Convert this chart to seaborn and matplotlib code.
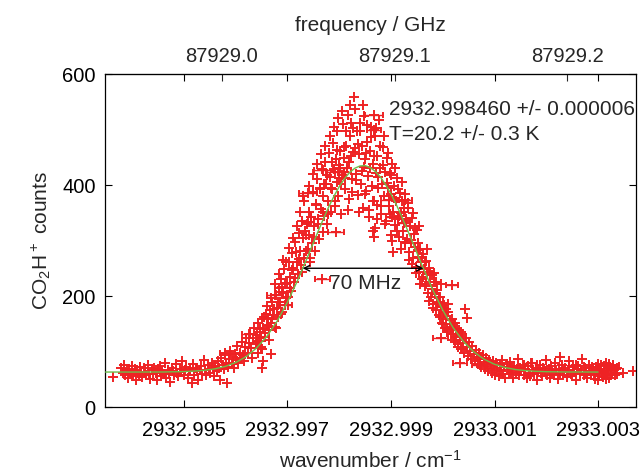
import numpy as np
import pandas as pd
import matplotlib
matplotlib.use("Agg")
import matplotlib.pyplot as plt
import seaborn as sns
from matplotlib.ticker import FormatStrFormatter

# Wavenumbers are stored as offsets above WN_BASE, in units of 1e-6 cm^-1
WN_BASE = 2932.990

wn_offset = [
    # left baseline
    3628, 3790, 3815, 3842, 3866, 3890, 3921, 3945, 3968, 3994,
    4020, 4047, 4071, 4096, 4122, 4150, 4173, 4198, 4224, 4251,
    4275, 4302, 4327, 4350, 4378, 4403, 4428, 4455, 4480, 4506,
    4530, 4557, 4583, 4608, 4633, 4660, 4685, 4710, 4736, 4762,
    4788, 4812, 4838, 4865, 4890, 4915, 4942, 4968, 4993, 5018,
    5044, 5070, 5095, 5120, 5146, 5171, 5198, 5224, 5250, 5275,
    5300, 5326, 5352, 5378, 5404, 5430, 5455, 5481, 5506, 5532,
    5558, 5583,
    # foot of the rising edge
    5608, 5631, 5655, 5678, 5700, 5722, 5745, 5768, 5790, 5812,
    5830, 5852, 5875, 5897, 5919, 5941, 5963, 5985, 6008, 6030,
    6052, 6074, 6096, 6118, 6140, 6162, 6184, 6206, 6228, 6250,
    6272, 6294, 6316, 6338, 6360, 6382, 6404, 6426, 6448, 6470,
    6492, 6514, 6536, 6558, 6580, 6602,
    # rising edge
    6622, 6643, 6664, 6686, 6707, 6728, 6749, 6770, 6792, 6813,
    6834, 6856, 6877, 6898, 6919, 6941, 6962, 6983, 7004, 7026,
    7047, 7068, 7089, 7111, 7132, 7153, 7174, 7196, 7217, 7238,
    7259, 7281, 7302, 7323, 7344, 7366, 7387, 7408,
    # left of the peak
    7425, 7443, 7461, 7479, 7497, 7515, 7533, 7551, 7569, 7587,
    7605, 7623, 7641, 7659, 7677, 7695, 7713, 7731, 7749, 7767,
    7785, 7803, 7821, 7839, 7857, 7875, 7893, 7911, 7929, 7947,
    7965, 7983, 8001, 8019, 8037, 8055, 8073, 8091, 8109, 8127,
    8145, 8163, 8181, 8199, 8217, 8235, 8253, 8271, 8289, 8307,
    # right of the peak
    8325, 8343, 8361, 8379, 8397, 8415, 8433, 8451, 8469, 8487,
    8505, 8523, 8541, 8559, 8577, 8595, 8613, 8631, 8649, 8667,
    8685, 8703, 8721, 8739, 8757, 8775, 8793, 8811, 8829, 8847,
    8865, 8883, 8901, 8919, 8937, 8955, 8973, 8991, 9009, 9027,
    9045, 9063, 9081, 9099, 9117, 9135, 9153, 9171, 9189,
    # falling edge
    9207, 9225, 9243, 9261, 9279, 9297, 9315, 9333, 9351, 9369,
    9387, 9405, 9423, 9441, 9459, 9477, 9495, 9513, 9531, 9549,
    9567, 9585, 9603, 9621, 9639, 9657, 9675, 9693, 9711, 9729,
    9747, 9765, 9783, 9801, 9819, 9837, 9855, 9873, 9891, 9909,
    9927, 9945, 9963, 9981, 9999, 10017, 10035, 10053, 10071, 10089,
    # foot of the falling edge
    10110, 10132, 10154, 10176, 10198, 10220, 10242, 10264, 10286, 10308,
    10330, 10352, 10374, 10396, 10418, 10440, 10462, 10484, 10506, 10528,
    10550, 10572, 10594, 10616, 10638, 10660, 10682, 10704, 10726, 10748,
    10770, 10792, 10814, 10836, 10858, 10880, 10902, 10924, 10946, 10968,
    10990, 11012, 11034, 11056, 11078, 11100, 11122, 11144, 11166, 11188,
    11210, 11232, 11254, 11276, 11298, 11320, 11342, 11364, 11386, 11408,
    11430, 11452, 11474, 11496,
    # right baseline
    11520, 11545, 11570, 11595, 11620, 11645, 11670, 11695, 11720, 11745,
    11770, 11795, 11820, 11845, 11870, 11895, 11920, 11945, 11970, 11995,
    12020, 12045, 12070, 12095, 12120, 12145, 12170, 12195, 12220, 12245,
    12270, 12295, 12320, 12345, 12370, 12395, 12420, 12445, 12470, 12495,
    12520, 12545, 12570, 12595, 12620, 12645, 12670, 12695, 12720, 12745,
    12770, 12795, 12820, 12845, 12870, 12895, 12920, 12945, 12970, 12995,
    13020, 13045, 13070, 13095, 13120, 13145, 13170, 13195, 13220, 13245,
    13270, 13295, 13320, 13345, 13370, 13480, 13669,
    # stray points
    6510, 6530, 6680, 8644, 8672, 8697, 9040, 10430, 10470, 12265,
    12958, 13008, 13058, 13108, 13158, 13208, 13258, 13308, 13358, 13000, 13150,
]

counts = [
    54, 71, 62, 75, 58, 66, 52, 69, 60, 73,
    55, 64, 49, 67, 58, 72, 61, 54, 70, 63,
    57, 76, 60, 51, 66, 59, 71, 62, 48, 68,
    74, 56, 65, 60, 79, 53, 67, 62, 45, 70,
    64, 58, 77, 61, 55, 69, 63, 82, 57, 66,
    72, 52, 64, 69, 44, 78, 58, 71, 64, 49,
    67, 73, 60, 84, 66, 57, 75, 68, 62, 80,
    70, 56,
    74, 65, 82, 71, 49, 88, 76, 68, 93, 79,
    43, 72, 86, 101, 77, 90, 70, 96, 84, 110,
    79, 98, 88, 118, 94, 83, 108, 124, 97, 115,
    131, 106, 88, 124, 142, 113, 129, 151, 119, 136,
    108, 158, 142, 126, 167, 148,
    160, 138, 175, 152, 190, 166, 145, 201, 178, 162,
    214, 189, 230, 172, 205, 248, 196, 224, 183, 262,
    235, 209, 277, 250, 226, 298, 262, 240, 313, 281,
    255, 336, 381, 268, 318, 310, 285, 352,
    310, 268, 342, 295, 388, 326, 281, 364, 410, 338,
    302, 395, 357, 428, 316, 380, 345, 441, 402, 330,
    372, 458, 415, 351, 393, 476, 428, 362, 447, 405,
    497, 381, 436, 462, 347, 418, 510, 449, 392, 470,
    431, 526, 375, 488, 545, 452, 410, 503, 558, 466,
    420, 497, 382, 456, 511, 401, 470, 358, 432, 524,
    447, 389, 478, 416, 355, 462, 505, 398, 437, 372,
    488, 421, 364, 452, 395, 518, 430, 347, 402, 469,
    381, 423, 336, 448, 395, 362, 421, 310, 384, 437,
    352, 398, 328, 371, 412, 338, 306, 386, 350,
    372, 318, 351, 297, 384, 336, 302, 358, 279, 327,
    295, 341, 268, 312, 288, 252, 319, 271, 296, 243,
    284, 262, 231, 275, 249, 218, 263, 239, 205, 251,
    226, 198, 237, 212, 186, 225, 203, 174, 211, 190,
    166, 198, 181, 152, 187, 170, 143, 176, 158, 135,
    172, 149, 131, 158, 140, 121, 151, 127, 113, 139,
    120, 104, 132, 115, 98, 124, 108, 92, 117, 101,
    86, 110, 95, 82, 103, 90, 77, 98, 86, 72,
    94, 81, 68, 89, 77, 64, 85, 73, 61, 82,
    70, 58, 79, 67, 55, 76, 64, 84, 60, 72,
    53, 77, 66, 59, 81, 63, 70, 52, 74, 61,
    68, 87, 57, 71,
    64, 76, 58, 69, 52, 73, 62, 55, 80, 66,
    59, 71, 48, 67, 75, 61, 56, 70, 64, 85,
    58, 68, 53, 74, 63, 57, 79, 66, 51, 69,
    61, 76, 58, 65, 71, 54, 67, 82, 60, 55,
    72, 63, 49, 68, 74, 59, 66, 87, 57, 70,
    62, 53, 75, 64, 58, 71, 60, 50, 67, 78,
    56, 69, 61, 54, 73, 65, 58, 70, 52, 66,
    61, 74, 57, 68, 60, 62, 64,
    70, 82, 96, 318, 306, 322, 280, 176, 160, 90,
    72, 59, 75, 63, 51, 77, 58, 66, 71, 48, 80,
]

# second, interleaved scan across the line
wn_offset_2 = [
    6409, 6436, 6463, 6490, 6517, 6544, 6571, 6598, 6625, 6652,
    6679, 6706, 6733, 6760, 6787, 6814, 6841, 6868, 6895, 6922,
    6949, 6976, 7003, 7030, 7057, 7084, 7111, 7138, 7165, 7192,
    7219, 7246, 7273, 7300, 7327, 7354, 7381, 7408, 7435, 7462,
    7489, 7516, 7543, 7570, 7597, 7624, 7651, 7678, 7705, 7732,
    7759, 7786, 7813, 7840, 7867, 7894, 7921, 7948, 7975, 8002,
    8029, 8056, 8083, 8110, 8137, 8164, 8191, 8218, 8245, 8272,
    8299, 8326, 8353, 8380, 8407, 8434, 8461, 8488, 8515, 8542,
    8569, 8596, 8623, 8650, 8677, 8704, 8731, 8758, 8785, 8812,
    8839, 8866, 8893, 8920, 8947, 8974, 9001, 9028, 9055, 9082,
    9109, 9136, 9163, 9190, 9217, 9244, 9271, 9298, 9325, 9352,
    9379, 9406, 9433, 9460, 9487, 9514, 9541, 9568, 9595, 9622,
    9649, 9676, 9703, 9730, 9757, 9784, 9811, 9838, 9865, 9892,
    9919, 9946, 9973, 10000, 10027, 10054, 10081, 10108, 10135, 10162,
    10189, 10216, 10243, 10270, 10297, 10324, 10351, 10378,
]
counts_2 = [
    118, 97, 141, 125, 105, 163, 134, 182, 146, 121,
    197, 158, 176, 221, 143, 189, 240, 168, 207, 265,
    222, 261, 199, 286, 214, 247, 305, 232, 279, 327,
    266, 351, 243, 304, 372, 281, 329, 398, 262, 343,
    419, 306, 366, 437, 330, 392, 455, 351, 401, 470,
    418, 347, 489, 395, 441, 505, 372, 463, 520, 412,
    401, 534, 468, 412, 497, 355, 441, 512, 388, 460,
    537, 409, 473, 352, 498, 426, 544, 383, 457, 509,
    343, 430, 486, 371, 452, 503, 338, 414, 471, 362,
    436, 488, 329, 404, 457, 347, 418, 299, 376, 431,
    318, 392, 344, 284, 406, 359, 296, 339, 368, 264,
    301, 258, 349, 322, 241, 283, 327, 222, 270, 234,
    262, 221, 284, 191, 244, 205, 178, 241, 226, 187,
    198, 163, 222, 150, 184, 171, 139, 186, 157, 144,
    132, 151, 118, 141, 109, 128, 136, 104,
]

# points whose horizontal error bar is wider than the marker
wn_offset_wide = [4150, 5800, 6255, 6760, 6900, 6960, 7395, 7400, 7675, 7695,
                  7915, 7935, 8020, 8100, 8670, 8675, 8960, 9020, 9250, 9280,
                  9960, 10180, 10330, 10710, 11700, 12580, 12880, 13280]
counts_wide = [72, 97, 131, 202, 216, 184, 333, 386, 230, 427,
               423, 315, 430, 423, 526, 499, 373, 342, 331, 373,
               125, 220, 80, 76, 80, 76, 72, 75]
wn_err_wide = [90, 110, 130, 150, 140, 130, 120, 170, 150, 180,
               170, 150, 130, 120, 170, 130, 150, 120, 110, 130,
               140, 110, 140, 150, 130, 140, 120, 130]

# fitted profile (green curve)
fit_offset = [3483, 4000, 4600, 5000, 5200, 5400, 5600, 5800, 6000, 6200,
              6400, 6600, 6800, 7000, 7200, 7400, 7500, 7600, 7700, 7800,
              7900, 8000, 8100, 8200, 8300, 8400, 8500, 8600, 8700, 8800,
              8900, 9000, 9100, 9200, 9300, 9400, 9600, 9800, 10000, 10200,
              10400, 10600, 10800, 11000, 11200, 11400, 11600, 11800, 12000, 12400,
              13000]
fit_counts = [63.0, 63.0, 63.1, 63.8, 64.7, 66.2, 68.8, 73.2, 80.2, 90.8,
              106.1, 127.1, 154.7, 189.0, 229.1, 273.2, 295.9, 318.4, 340.4, 361.2,
              380.2, 397.1, 411.3, 422.5, 430.2, 434.3, 435.0, 431.3, 424.2, 413.8,
              400.1, 383.8, 365.1, 344.6, 322.9, 300.4, 255.2, 212.4, 174.5, 142.9,
              118.0, 99.3, 86.0, 77.0, 71.2, 67.6, 65.5, 64.3, 63.6, 63.1,
              63.0]

# FWHM arrow ends (offsets) and its height
fwhm_left, fwhm_right, fwhm_level = 7292, 9628, 250

x_ticks = [2932.995, 2932.997, 2932.999, 2933.001, 2933.003]
ghz_ticks = [87929.0, 87929.1, 87929.2]
C_GHZ = 29.9792458  # GHz per cm^-1

RED = "#EE2224"
GREEN = "#6CBF4A"

sns.set_style("ticks")
plt.rcParams["font.family"] = ["Liberation Sans", "DejaVu Sans"]
plt.rcParams["mathtext.default"] = "regular"

data = pd.DataFrame({"wn": WN_BASE + np.array(wn_offset + wn_offset_2) * 1e-6,
                     "counts": counts + counts_2})
wide = pd.DataFrame({"wn": WN_BASE + np.array(wn_offset_wide) * 1e-6,
                     "counts": counts_wide,
                     "err": np.array(wn_err_wide) * 1e-6})
fit = pd.DataFrame({"wn": WN_BASE + np.array(fit_offset) * 1e-6, "counts": fit_counts})

fig = plt.figure(figsize=(6.4, 4.72), dpi=100)
ax = fig.add_axes([0.1648, 0.1377, 0.8289, 0.7055])

sns.scatterplot(data=data, x="wn", y="counts", marker="+", s=44, color=RED,
                linewidth=1.4, ax=ax, zorder=2)
ax.errorbar(wide["wn"], wide["counts"], xerr=wide["err"], fmt="+", color=RED,
            ms=6.5, mew=1.4, elinewidth=1.0, capsize=2.5, capthick=1.0, zorder=2)
sns.lineplot(data=fit, x="wn", y="counts", color=GREEN, linewidth=1.0,
             errorbar=None, ax=ax, zorder=3)

ax.set_xlim(WN_BASE + 3483e-6, WN_BASE + 13733e-6)
ax.set_ylim(0, 600)
ax.set_xticks(x_ticks)
ax.set_yticks([0, 200, 400, 600])
ax.xaxis.set_major_formatter(FormatStrFormatter("%.3f"))
ax.tick_params(axis="both", direction="in", length=5, width=0.8, labelsize=14.5,
               top=True, right=True, colors="black")
ax.tick_params(axis="x", pad=10)
ax.tick_params(axis="y", pad=7)
ax.set_xlabel("wavenumber / cm$^{-1}$", fontsize=15, labelpad=7)
ax.set_ylabel("CO$_2$H$^+$ counts", fontsize=15, labelpad=7)
for sp in ax.spines.values():
    sp.set_linewidth(0.9)
    sp.set_color("black")

secax = ax.secondary_xaxis("top", functions=(lambda w: w * C_GHZ, lambda f: f / C_GHZ))
secax.set_xticks(ghz_ticks)
secax.xaxis.set_major_formatter(FormatStrFormatter("%.1f"))
secax.tick_params(direction="in", length=5, width=0.8, labelsize=14.5, pad=6)
secax.set_xlabel("frequency / GHz", fontsize=15, labelpad=11)

ax.annotate("", xy=(WN_BASE + fwhm_left * 1e-6, fwhm_level),
            xytext=(WN_BASE + fwhm_right * 1e-6, fwhm_level),
            arrowprops=dict(arrowstyle="<->", color="black", lw=1.0,
                            shrinkA=0, shrinkB=0), zorder=4)
ax.text(WN_BASE + 8498e-6, 212, "70 MHz", fontsize=15, ha="center", va="baseline")
ax.text(WN_BASE + 8970e-6, 526, "2932.998460 +/- 0.000006", fontsize=15,
        ha="left", va="baseline")
ax.text(WN_BASE + 8970e-6, 481, "T=20.2 +/- 0.3 K", fontsize=15,
        ha="left", va="baseline")

fig.savefig("out.png", dpi=100)
